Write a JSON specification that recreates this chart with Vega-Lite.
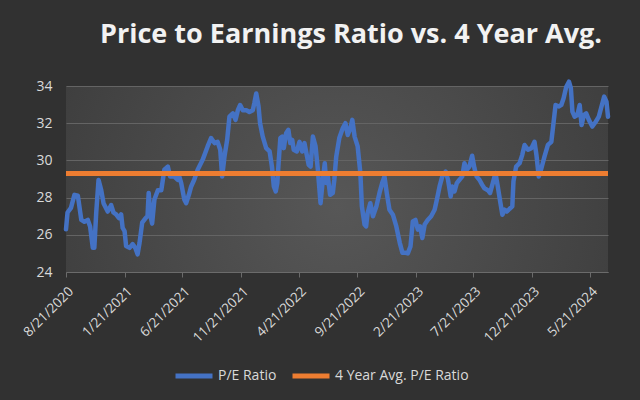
{
  "$schema": "https://vega.github.io/schema/vega-lite/v6.json",
  "width": 542,
  "height": 186,
  "autosize": {"type": "none"},
  "padding": {"left": 66, "top": 86, "right": 32, "bottom": 128},
  "background": "#313131",
  "title": {
    "text": "Price to Earnings Ratio vs. 4 Year Avg.",
    "font": "Open Sans",
    "fontSize": 27,
    "fontWeight": "bold",
    "color": "#f2f2f2",
    "anchor": "middle",
    "frame": "group",
    "offset": 30,
    "dx": 14
  },
  "datasets": {
    "pe": [
      {"date": "2020-08-21", "pe": 26.3},
      {"date": "2020-08-25", "pe": 27.2},
      {"date": "2020-09-03", "pe": 27.45},
      {"date": "2020-09-12", "pe": 28.15},
      {"date": "2020-09-21", "pe": 28.1},
      {"date": "2020-09-30", "pe": 26.8},
      {"date": "2020-10-08", "pe": 26.7},
      {"date": "2020-10-17", "pe": 26.8},
      {"date": "2020-10-23", "pe": 26.45},
      {"date": "2020-10-30", "pe": 25.3},
      {"date": "2020-11-03", "pe": 25.3},
      {"date": "2020-11-08", "pe": 27.2},
      {"date": "2020-11-14", "pe": 28.95},
      {"date": "2020-11-21", "pe": 28.4},
      {"date": "2020-11-27", "pe": 27.7},
      {"date": "2020-12-08", "pe": 27.25},
      {"date": "2020-12-17", "pe": 27.6},
      {"date": "2020-12-23", "pe": 27.2},
      {"date": "2020-12-30", "pe": 27.1},
      {"date": "2021-01-06", "pe": 26.9},
      {"date": "2021-01-12", "pe": 27.1},
      {"date": "2021-01-16", "pe": 26.37},
      {"date": "2021-01-21", "pe": 26.2},
      {"date": "2021-01-25", "pe": 25.4},
      {"date": "2021-02-03", "pe": 25.3},
      {"date": "2021-02-11", "pe": 25.5},
      {"date": "2021-02-18", "pe": 25.3},
      {"date": "2021-02-24", "pe": 24.95},
      {"date": "2021-03-01", "pe": 25.55},
      {"date": "2021-03-08", "pe": 26.65},
      {"date": "2021-03-17", "pe": 26.9},
      {"date": "2021-03-22", "pe": 27.0},
      {"date": "2021-03-25", "pe": 28.25},
      {"date": "2021-03-30", "pe": 27.0},
      {"date": "2021-04-03", "pe": 26.6},
      {"date": "2021-04-09", "pe": 27.9},
      {"date": "2021-04-18", "pe": 28.4},
      {"date": "2021-04-27", "pe": 28.4},
      {"date": "2021-05-05", "pe": 29.5},
      {"date": "2021-05-14", "pe": 29.67},
      {"date": "2021-05-20", "pe": 29.13},
      {"date": "2021-05-31", "pe": 29.13},
      {"date": "2021-06-09", "pe": 28.96},
      {"date": "2021-06-13", "pe": 29.13},
      {"date": "2021-06-18", "pe": 28.78},
      {"date": "2021-06-26", "pe": 27.9},
      {"date": "2021-07-01", "pe": 27.7},
      {"date": "2021-07-08", "pe": 28.15},
      {"date": "2021-07-14", "pe": 28.6},
      {"date": "2021-07-22", "pe": 28.96},
      {"date": "2021-07-31", "pe": 29.5},
      {"date": "2021-08-13", "pe": 30.03},
      {"date": "2021-08-26", "pe": 30.75},
      {"date": "2021-09-04", "pe": 31.2},
      {"date": "2021-09-13", "pe": 30.93},
      {"date": "2021-09-21", "pe": 31.0},
      {"date": "2021-09-28", "pe": 30.57},
      {"date": "2021-10-03", "pe": 29.13},
      {"date": "2021-10-09", "pe": 30.2},
      {"date": "2021-10-16", "pe": 31.1},
      {"date": "2021-10-22", "pe": 32.35},
      {"date": "2021-10-31", "pe": 32.53},
      {"date": "2021-11-07", "pe": 32.18},
      {"date": "2021-11-13", "pe": 32.7},
      {"date": "2021-11-19", "pe": 32.98},
      {"date": "2021-11-26", "pe": 32.7},
      {"date": "2021-12-05", "pe": 32.7},
      {"date": "2021-12-13", "pe": 32.6},
      {"date": "2021-12-22", "pe": 32.7},
      {"date": "2021-12-26", "pe": 33.07},
      {"date": "2021-12-31", "pe": 33.6},
      {"date": "2022-01-06", "pe": 32.9},
      {"date": "2022-01-10", "pe": 32.0},
      {"date": "2022-01-17", "pe": 31.28},
      {"date": "2022-01-26", "pe": 30.66},
      {"date": "2022-02-04", "pe": 30.48},
      {"date": "2022-02-10", "pe": 29.67},
      {"date": "2022-02-15", "pe": 28.6},
      {"date": "2022-02-20", "pe": 28.33},
      {"date": "2022-02-24", "pe": 28.78},
      {"date": "2022-02-28", "pe": 30.03},
      {"date": "2022-03-04", "pe": 31.2},
      {"date": "2022-03-09", "pe": 31.28},
      {"date": "2022-03-13", "pe": 30.66},
      {"date": "2022-03-19", "pe": 31.46},
      {"date": "2022-03-25", "pe": 31.64},
      {"date": "2022-03-30", "pe": 30.93},
      {"date": "2022-04-04", "pe": 31.1},
      {"date": "2022-04-08", "pe": 30.57},
      {"date": "2022-04-16", "pe": 30.48},
      {"date": "2022-04-23", "pe": 31.0},
      {"date": "2022-04-30", "pe": 30.48},
      {"date": "2022-05-06", "pe": 30.93},
      {"date": "2022-05-11", "pe": 30.4},
      {"date": "2022-05-17", "pe": 29.76},
      {"date": "2022-05-22", "pe": 29.67},
      {"date": "2022-05-28", "pe": 31.28},
      {"date": "2022-06-04", "pe": 30.75},
      {"date": "2022-06-10", "pe": 29.5},
      {"date": "2022-06-17", "pe": 27.7},
      {"date": "2022-06-23", "pe": 28.96},
      {"date": "2022-06-28", "pe": 29.85},
      {"date": "2022-07-02", "pe": 28.78},
      {"date": "2022-07-06", "pe": 29.13},
      {"date": "2022-07-12", "pe": 28.15},
      {"date": "2022-07-19", "pe": 28.25},
      {"date": "2022-07-23", "pe": 28.96},
      {"date": "2022-07-28", "pe": 30.2},
      {"date": "2022-08-05", "pe": 31.2},
      {"date": "2022-08-14", "pe": 31.73},
      {"date": "2022-08-21", "pe": 32.0},
      {"date": "2022-08-27", "pe": 31.37},
      {"date": "2022-09-03", "pe": 31.73},
      {"date": "2022-09-08", "pe": 32.18},
      {"date": "2022-09-14", "pe": 31.28},
      {"date": "2022-09-22", "pe": 30.75},
      {"date": "2022-09-29", "pe": 29.32},
      {"date": "2022-10-03", "pe": 27.53},
      {"date": "2022-10-10", "pe": 26.55},
      {"date": "2022-10-14", "pe": 26.45},
      {"date": "2022-10-18", "pe": 27.17},
      {"date": "2022-10-25", "pe": 27.7},
      {"date": "2022-11-01", "pe": 27.0},
      {"date": "2022-11-10", "pe": 27.53},
      {"date": "2022-11-18", "pe": 28.25},
      {"date": "2022-11-25", "pe": 28.78},
      {"date": "2022-12-01", "pe": 29.13},
      {"date": "2022-12-07", "pe": 28.25},
      {"date": "2022-12-14", "pe": 27.35},
      {"date": "2022-12-23", "pe": 27.08},
      {"date": "2023-01-01", "pe": 26.45},
      {"date": "2023-01-10", "pe": 25.57},
      {"date": "2023-01-17", "pe": 25.03},
      {"date": "2023-01-25", "pe": 25.03},
      {"date": "2023-01-31", "pe": 25.0},
      {"date": "2023-02-07", "pe": 25.38},
      {"date": "2023-02-13", "pe": 26.72},
      {"date": "2023-02-20", "pe": 26.8},
      {"date": "2023-02-26", "pe": 26.28},
      {"date": "2023-03-04", "pe": 26.45},
      {"date": "2023-03-10", "pe": 25.83},
      {"date": "2023-03-16", "pe": 26.55},
      {"date": "2023-03-24", "pe": 26.8},
      {"date": "2023-04-02", "pe": 27.0},
      {"date": "2023-04-11", "pe": 27.35},
      {"date": "2023-04-17", "pe": 27.9},
      {"date": "2023-04-24", "pe": 28.6},
      {"date": "2023-05-01", "pe": 29.13},
      {"date": "2023-05-10", "pe": 29.4},
      {"date": "2023-05-16", "pe": 28.96},
      {"date": "2023-05-23", "pe": 28.06},
      {"date": "2023-05-27", "pe": 28.6},
      {"date": "2023-06-02", "pe": 28.33},
      {"date": "2023-06-08", "pe": 28.78},
      {"date": "2023-06-15", "pe": 28.96},
      {"date": "2023-06-22", "pe": 29.13},
      {"date": "2023-06-28", "pe": 29.85},
      {"date": "2023-07-04", "pe": 29.5},
      {"date": "2023-07-11", "pe": 29.67},
      {"date": "2023-07-18", "pe": 30.25},
      {"date": "2023-07-24", "pe": 29.58},
      {"date": "2023-07-30", "pe": 29.13},
      {"date": "2023-08-06", "pe": 28.96},
      {"date": "2023-08-13", "pe": 28.7},
      {"date": "2023-08-19", "pe": 28.5},
      {"date": "2023-08-28", "pe": 28.4},
      {"date": "2023-09-03", "pe": 28.25},
      {"date": "2023-09-10", "pe": 28.78},
      {"date": "2023-09-17", "pe": 29.32},
      {"date": "2023-09-23", "pe": 28.6},
      {"date": "2023-09-30", "pe": 27.7},
      {"date": "2023-10-05", "pe": 27.08},
      {"date": "2023-10-11", "pe": 27.35},
      {"date": "2023-10-17", "pe": 27.25},
      {"date": "2023-10-24", "pe": 27.4},
      {"date": "2023-10-31", "pe": 27.53},
      {"date": "2023-11-03", "pe": 28.87},
      {"date": "2023-11-10", "pe": 29.67},
      {"date": "2023-11-19", "pe": 29.85},
      {"date": "2023-11-26", "pe": 30.3},
      {"date": "2023-12-02", "pe": 30.83},
      {"date": "2023-12-11", "pe": 30.57},
      {"date": "2023-12-20", "pe": 30.66},
      {"date": "2023-12-28", "pe": 31.0},
      {"date": "2024-01-02", "pe": 30.3},
      {"date": "2024-01-08", "pe": 29.13},
      {"date": "2024-01-15", "pe": 29.58},
      {"date": "2024-01-23", "pe": 30.2},
      {"date": "2024-02-01", "pe": 30.83},
      {"date": "2024-02-10", "pe": 31.0},
      {"date": "2024-02-16", "pe": 32.08},
      {"date": "2024-02-21", "pe": 32.98},
      {"date": "2024-03-01", "pe": 32.9},
      {"date": "2024-03-07", "pe": 32.98},
      {"date": "2024-03-13", "pe": 33.34},
      {"date": "2024-03-20", "pe": 33.96},
      {"date": "2024-03-27", "pe": 34.23},
      {"date": "2024-04-01", "pe": 33.88},
      {"date": "2024-04-05", "pe": 32.62},
      {"date": "2024-04-11", "pe": 32.35},
      {"date": "2024-04-18", "pe": 32.44},
      {"date": "2024-04-24", "pe": 32.98},
      {"date": "2024-04-29", "pe": 31.9},
      {"date": "2024-05-05", "pe": 32.44},
      {"date": "2024-05-11", "pe": 32.53},
      {"date": "2024-05-18", "pe": 32.18},
      {"date": "2024-05-27", "pe": 31.82},
      {"date": "2024-06-05", "pe": 32.08},
      {"date": "2024-06-13", "pe": 32.35},
      {"date": "2024-06-20", "pe": 32.9},
      {"date": "2024-06-27", "pe": 33.43},
      {"date": "2024-07-03", "pe": 33.16},
      {"date": "2024-07-07", "pe": 32.35}
    ],
    "avg": [
      {"date": "2020-08-21", "pe": 29.3},
      {"date": "2024-07-07", "pe": 29.3}
    ]
  },
  "encoding": {
    "x": {
      "field": "date",
      "type": "temporal",
      "scale": {
        "type": "utc",
        "domain": [
          {"year": 2020, "month": 8, "date": 21, "utc": true},
          {"year": 2024, "month": 7, "date": 7, "utc": true}
        ]
      },
      "axis": {
        "title": null,
        "grid": false,
        "values": [
          {"year": 2020, "month": 8, "date": 21, "utc": true},
          {"year": 2021, "month": 1, "date": 21, "utc": true},
          {"year": 2021, "month": 6, "date": 21, "utc": true},
          {"year": 2021, "month": 11, "date": 21, "utc": true},
          {"year": 2022, "month": 4, "date": 21, "utc": true},
          {"year": 2022, "month": 9, "date": 21, "utc": true},
          {"year": 2023, "month": 2, "date": 21, "utc": true},
          {"year": 2023, "month": 7, "date": 21, "utc": true},
          {"year": 2023, "month": 12, "date": 21, "utc": true},
          {"year": 2024, "month": 5, "date": 21, "utc": true}
        ],
        "labelExpr": "utcFormat(datum.value, '%-m/%-d/%Y')",
        "labelAngle": -45,
        "labelFlush": false,
        "labelOverlap": false,
        "labelBound": false,
        "labelColor": "#d9d9d9",
        "labelFont": "Open Sans",
        "labelFontSize": 13.5,
        "labelPadding": 7,
        "domainColor": "#6b6b6b",
        "domainWidth": 1,
        "tickColor": "#6b6b6b",
        "tickSize": 5
      }
    },
    "y": {
      "field": "pe",
      "type": "quantitative",
      "scale": {"domain": [24, 34], "nice": false, "zero": false},
      "axis": {
        "title": null,
        "values": [24, 26, 28, 30, 32, 34],
        "domain": false,
        "ticks": false,
        "gridColor": "#646464",
        "gridWidth": 1,
        "labelPadding": 14,
        "labelColor": "#d9d9d9",
        "labelFont": "Open Sans",
        "labelFontSize": 14
      }
    }
  },
  "layer": [
    {
      "data": {"name": "pe"},
      "mark": {"type": "line", "strokeWidth": 4.5, "strokeCap": "round", "strokeJoin": "round", "clip": false},
      "encoding": {
        "color": {
          "datum": "P/E Ratio",
          "type": "nominal",
          "scale": {"domain": ["P/E Ratio", "4 Year Avg. P/E Ratio"], "range": ["#4472c4", "#ed7d31"]},
          "legend": {
            "title": null,
            "orient": "none",
            "legendX": 107,
            "legendY": 269,
            "direction": "horizontal",
            "symbolType": "stroke",
            "symbolSize": 1369,
            "symbolStrokeWidth": 5,
            "labelColor": "#d9d9d9",
            "labelFont": "Open Sans",
            "labelFontSize": 14,
            "labelOffset": 3,
            "columnPadding": 5
          }
        }
      }
    },
    {
      "data": {"name": "avg"},
      "mark": {"type": "line", "strokeWidth": 5, "strokeCap": "butt"},
      "encoding": {
        "color": {"datum": "4 Year Avg. P/E Ratio", "type": "nominal"}
      }
    }
  ],
  "config": {
    "view": {
      "stroke": null,
      "fill": {
        "gradient": "radial",
        "x1": 0.5, "y1": 0.55, "r1": 0,
        "x2": 0.5, "y2": 0.55, "r2": 0.75,
        "stops": [
          {"offset": 0, "color": "#575757"},
          {"offset": 1, "color": "#363636"}
        ]
      }
    }
  }
}
